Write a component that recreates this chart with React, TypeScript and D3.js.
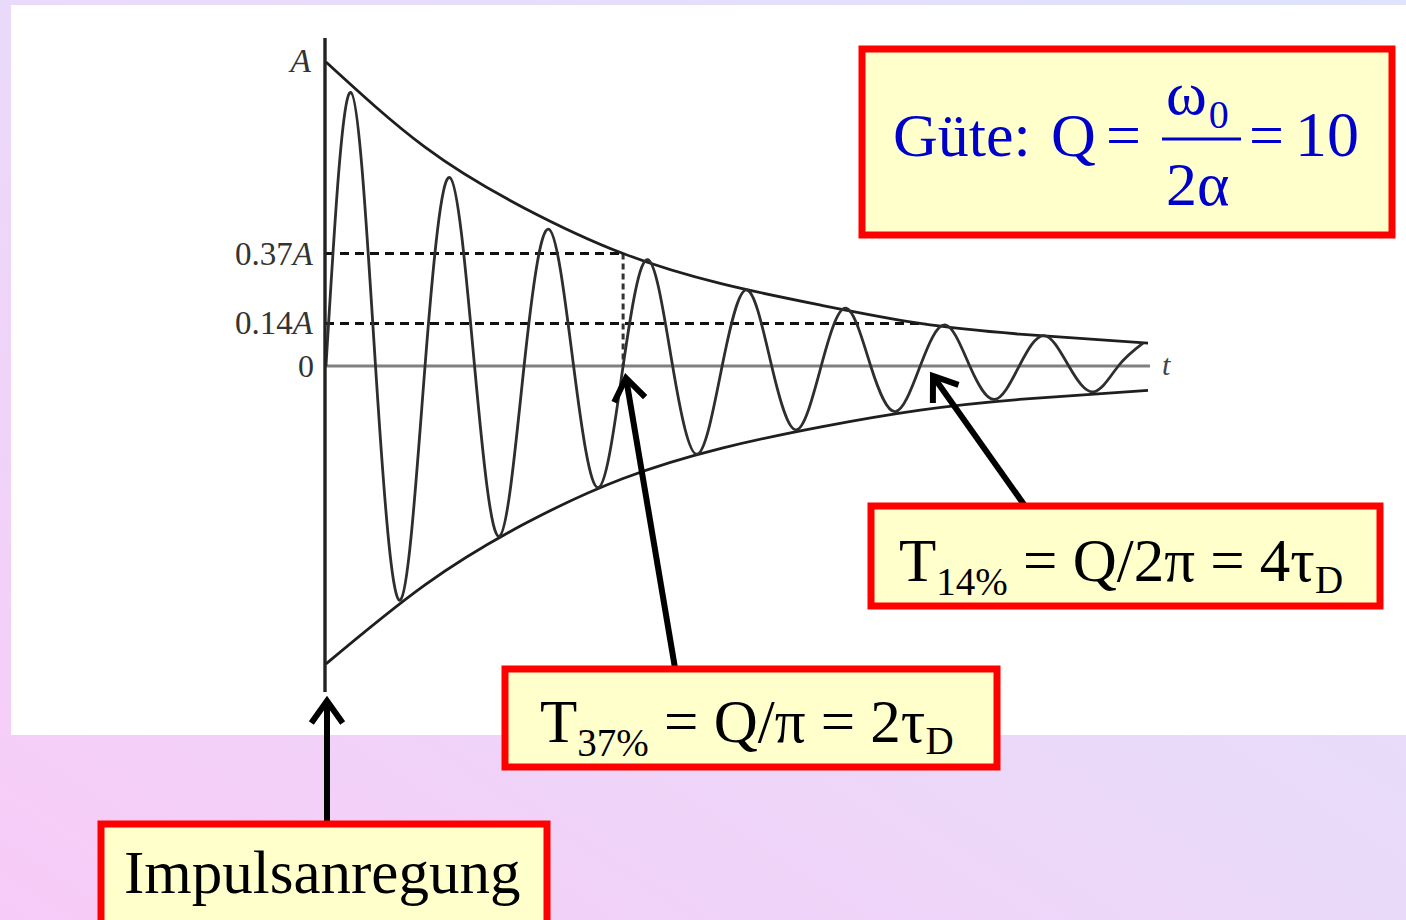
import React from "react";
import * as d3 from "d3";

// ---- data ----
// wave samples at quarter periods (t in periods, value relative to A)
const waveT = [0, 0.25, 0.5, 0.75, 1, 1.25, 1.5, 1.75, 2, 2.25, 2.5, 2.75, 3, 3.25, 3.5, 3.75, 4, 4.25, 4.5, 4.75, 5, 5.25, 5.5, 5.75, 6, 6.25, 6.5, 6.75, 7, 7.25, 7.5, 7.75, 8, 8.25];
const waveV = [0, 0.9, 0, -0.77, 0, 0.62, 0, -0.56, 0, 0.45, 0, -0.4, 0, 0.35, 0, -0.29, 0, 0.25, 0, -0.21, 0, 0.19, 0, -0.15, 0, 0.135, 0, -0.11, 0, 0.1, 0, -0.085, 0, 0.075];
// envelopes
const envT = [0, 1, 2, 3, 4, 5, 6, 7, 8.3];
const envUpper = [1, 0.72, 0.52, 0.37, 0.27, 0.2, 0.14, 0.105, 0.075];
const envLower = [-0.98, -0.72, -0.52, -0.37, -0.27, -0.2, -0.145, -0.11, -0.08];
// reference levels
const levelLabels = ["0.37", "0.14"];
const levelValues = [0.37, 0.14];
const levelT = [3, 6.05];
const tMax = 8.3;

const W = 1406;
const H = 920;

const x = d3.scaleLinear().domain([0, tMax]).range([326, 1148]);
const y = d3.scaleLinear().domain([-1, 1]).range([670, 62]);

const serif = "'Liberation Serif', 'Times New Roman', serif";

function Arrow({ x1, y1, x2, y2 }: { x1: number; y1: number; x2: number; y2: number }) {
  const ang = Math.atan2(y2 - y1, x2 - x1);
  const L = 27;
  const spread = 0.62;
  const a1 = ang + Math.PI - spread;
  const a2 = ang + Math.PI + spread;
  const p1 = [x2 + L * Math.cos(a1), y2 + L * Math.sin(a1)];
  const p2 = [x2 + L * Math.cos(a2), y2 + L * Math.sin(a2)];
  return (
    <g stroke="#000" strokeWidth={6} fill="none">
      <line x1={x1} y1={y1} x2={x2 - 3 * Math.cos(ang)} y2={y2 - 3 * Math.sin(ang)} />
      <polyline points={`${p1[0]},${p1[1]} ${x2},${y2} ${p2[0]},${p2[1]}`} strokeLinejoin="miter" strokeMiterlimit={10} />
    </g>
  );
}

function Box({ x0, y0, w, h }: { x0: number; y0: number; w: number; h: number }) {
  return <rect x={x0} y={y0} width={w} height={h} fill="#ffffcc" stroke="#ff0000" strokeWidth={7} />;
}

export default function App() {
  const wavePts: [number, number][] = waveT.map((t, i) => [x(t), y(waveV[i])]);
  const upPts: [number, number][] = envT.map((t, i) => [x(t), y(envUpper[i])]);
  const loPts: [number, number][] = envT.map((t, i) => [x(t), y(envLower[i])]);
  const line = d3.line().curve(d3.curveNatural);
  const y0 = y(0);
  const axisX = 325;

  return (
    <svg width={W} height={H} style={{ position: "absolute", left: 0, top: 0 }}>
      <defs>
        <linearGradient id="bg" x1="0" y1="1" x2="1" y2="0">
          <stop offset="0" stopColor="#f7cbf7" />
          <stop offset="0.5" stopColor="#eadaf9" />
          <stop offset="1" stopColor="#dfe3fc" />
        </linearGradient>
      </defs>
      <rect x={0} y={0} width={W} height={H} fill="url(#bg)" />
      <rect x={11} y={5} width={W - 11} height={730} fill="#ffffff" />

      {/* zero line */}
      <line x1={axisX} y1={y0} x2={x(tMax) + 2} y2={y0} stroke="#808080" strokeWidth={3.2} />
      {/* reference levels */}
      {levelValues.map((v, i) => (
        <line key={"l" + i} x1={axisX} y1={y(v)} x2={x(levelT[i])} y2={y(v)} stroke="#111" strokeWidth={3} strokeDasharray="9 6" />
      ))}
      <line x1={x(levelT[0])} y1={y(levelValues[0])} x2={x(levelT[0])} y2={y0} stroke="#333" strokeWidth={3} strokeDasharray="6 4" />

      {/* envelopes */}
      <path d={line(upPts) || ""} fill="none" stroke="#1e1e1e" strokeWidth={2.8} />
      <path d={line(loPts) || ""} fill="none" stroke="#1e1e1e" strokeWidth={2.8} />
      {/* wave */}
      <path d={line(wavePts) || ""} fill="none" stroke="#2e2e2e" strokeWidth={2.8} />

      {/* vertical axis */}
      <line x1={axisX} y1={38} x2={axisX} y2={692} stroke="#222" strokeWidth={3.4} />

      {/* axis labels */}
      <text x={311} y={72} fontFamily={serif} fontSize={34} fontStyle="italic" fill="#333" textAnchor="end">A</text>
      {levelValues.map((v, i) => (
        <text key={"t" + i} x={313} y={y(v) + 11} fontFamily={serif} fontSize={33} fill="#333" textAnchor="end">
          {levelLabels[i]}<tspan fontStyle="italic">A</tspan>
        </text>
      ))}
      <text x={314} y={y0 + 11} fontFamily={serif} fontSize={32} fill="#333" textAnchor="end">0</text>
      <text x={1162} y={y0 + 9} fontFamily={serif} fontSize={30} fontStyle="italic" fill="#444">t</text>

      {/* Güte box */}
      <Box x0={862} y0={49} w={530} h={186} />
      <g fontFamily={serif} fill="#0000cc" fontSize={62}>
        <text x={893} y={156}>Güte:</text>
        <text x={1051} y={156}>Q</text>
        <text x={1106} y={156}>=</text>
        <text x={1166} y={114}>ω<tspan fontSize={40} dx={2} dy={14}>0</tspan></text>
        <line x1={1162} y1={139} x2={1241} y2={139} stroke="#0000cc" strokeWidth={3} />
        <text x={1166} y={205}>2α</text>
        <text x={1249} y={156}>=</text>
        <text x={1295} y={156} fontSize={64}>10</text>
      </g>

      {/* arrows */}
      <Arrow x1={327} y1={822} x2={327} y2={701} />
      <Arrow x1={675} y1={668} x2={626} y2={378} />
      <Arrow x1={1025} y1={506} x2={933} y2={376} />

      {/* T14 box */}
      <Box x0={871} y0={506} w={509} h={100} />
      <text x={899} y={581} fontFamily={serif} fontSize={61} fill="#000">
        T<tspan fontSize={39} dy={14}>14%</tspan>
        <tspan dy={-14}> = Q/2π = 4τ</tspan>
        <tspan fontSize={39} dy={12}>D</tspan>
      </text>

      {/* T37 box */}
      <Box x0={505} y0={669} w={492} h={98} />
      <text x={540} y={742} fontFamily={serif} fontSize={61} fill="#000">
        T<tspan fontSize={39} dy={14}>37%</tspan>
        <tspan dy={-14}> = Q/π = 2τ</tspan>
        <tspan fontSize={39} dy={12}>D</tspan>
      </text>

      {/* Impuls box */}
      <Box x0={101} y0={824} w={446} h={110} />
      <text x={124} y={893} fontFamily={serif} fontSize={61} fill="#000">Impulsanregung</text>
    </svg>
  );
}
